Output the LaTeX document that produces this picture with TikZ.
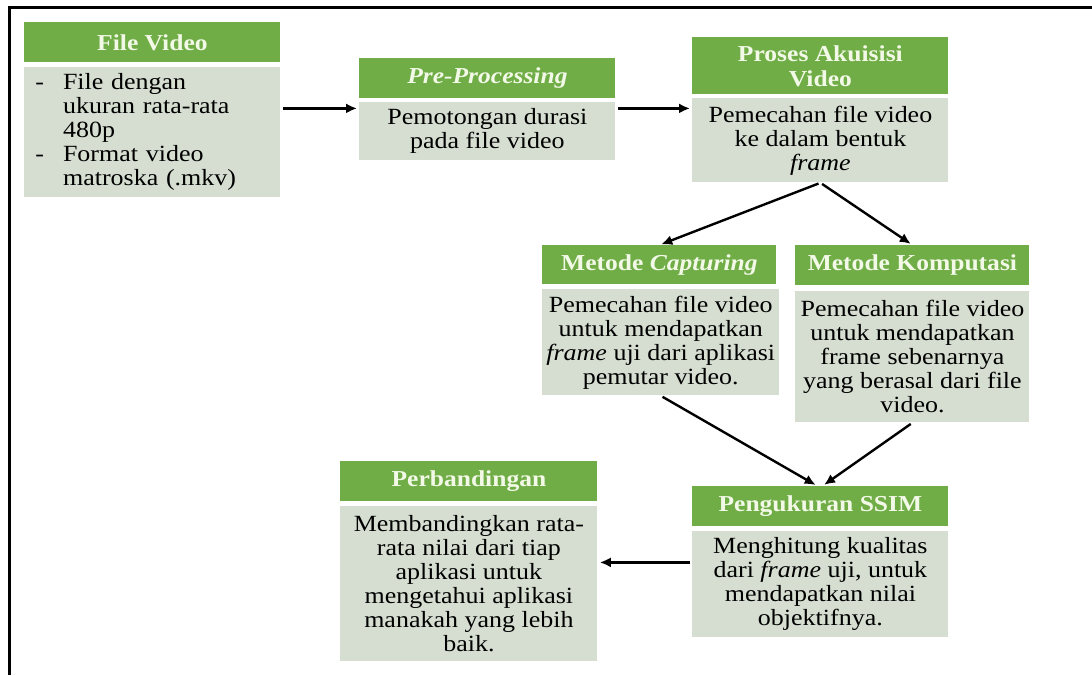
\documentclass[tikz,border=0pt]{standalone}
\usepackage{fontspec}
\setmainfont{Liberation Serif}[FakeStretch=1.12]
\usetikzlibrary{arrows.meta}

\definecolor{hdgreen}{HTML}{70AD47}
\definecolor{bdgreen}{HTML}{D5DED0}
\definecolor{hdtext}{HTML}{F2F9E6}

\def\bodyfont{\fontsize{11.6}{12}\selectfont}
\def\headfont{\fontsize{11.4}{12.5}\selectfont\bfseries}

\begin{document}
\begin{tikzpicture}[x=0.5pt,y=-0.5pt]

\tikzstyle{head}=[fill=hdgreen,text=hdtext,font=\headfont,align=center,anchor=north west,inner sep=2pt]
\tikzstyle{body}=[fill=bdgreen,text=black,font=\bodyfont,align=center,anchor=north west,inner sep=2pt]
\tikzstyle{arr}=[draw,line width=1.2pt,-{Latex[length=5.5pt,width=5pt]},shorten >=1pt,shorten <=1pt]

\useasboundingbox (0,0) rectangle (1092,675);
\draw[line width=1.5pt] (9,675) -- (9,7.5) -- (1092,7.5);

% input video
\node[head,minimum width=128pt,minimum height=20pt] (vidH) at (24,22) {File Video};
\node[body,text width=117pt,minimum height=65pt,inner xsep=5.5pt,align=left] (vid) at (24,67)
  {\begin{tabular}{@{}l@{\hspace{9.5pt}}l@{}}
   - & File dengan\\
     & ukuran rata-rata\\
     & 480p\\
   - & Format video\\
     & matroska (.mkv)
   \end{tabular}};

% pre-processing
\node[head,minimum width=128pt,minimum height=20pt] (preH) at (359,58) {\itshape Pre-Processing};
\node[body,minimum width=128pt,minimum height=29pt] (pre) at (359,102) {Pemotongan durasi\\pada file video};

% akuisisi
\node[head,minimum width=128pt,minimum height=28.5pt] (acqH) at (692,37) {Proses Akuisisi\\Video};
\node[body,minimum width=128pt,minimum height=42pt] (acq) at (692,98)
  {Pemecahan file video\\ke dalam bentuk\\\textit{frame}};

% two methods
\node[head,minimum width=117pt,minimum height=19.5pt] (capH) at (542,245) {Metode \textit{Capturing}};
\node[body,minimum width=117pt,minimum height=53pt] (cap) at (542,289)
  {Pemecahan file video\\untuk mendapatkan\\\textit{frame} uji dari aplikasi\\pemutar video.};

\node[head,minimum width=117pt,minimum height=20pt] (komH) at (795,245) {Metode Komputasi};
\node[body,minimum width=117pt,minimum height=65.5pt] (kom) at (795,291)
  {Pemecahan file video\\untuk mendapatkan\\frame sebenarnya\\yang berasal dari file\\video.};

% ssim
\node[head,minimum width=128pt,minimum height=20pt] (ssimH) at (692,486) {Pengukuran SSIM};
\node[body,minimum width=128pt,minimum height=53pt] (ssim) at (692,531)
  {Menghitung kualitas\\dari \textit{frame} uji, untuk\\mendapatkan nilai\\objektifnya.};

% comparison
\node[head,minimum width=128.5pt,minimum height=20pt] (cmpH) at (340,461) {Perbandingan};
\node[body,minimum width=128.5pt,minimum height=77.5pt] (cmp) at (340,506)
  {Membandingkan rata-\\rata nilai dari tiap\\aplikasi untuk\\mengetahui aplikasi\\manakah yang lebih\\baik.};

% arrows
\coordinate (a1) at ([yshift=11.5pt]pre.west);
\coordinate (a2) at ([yshift=11pt]ssim.west);
\path[arr] (vid.east |- a1) -- (a1);
\path[arr] (pre.east |- a1) -- (acq.west |- a1);
\path[arr] (acq.south) -- (capH.north);
\path[arr] (acq.south) -- (komH.north);
\path[arr] (cap.south) -- ([xshift=-1.5pt]ssimH.north);
\path[arr] (kom.south) -- ([xshift=1pt]ssimH.north);
\path[arr] (a2) -- (cmp.east |- a2);
\end{tikzpicture}
\end{document}
